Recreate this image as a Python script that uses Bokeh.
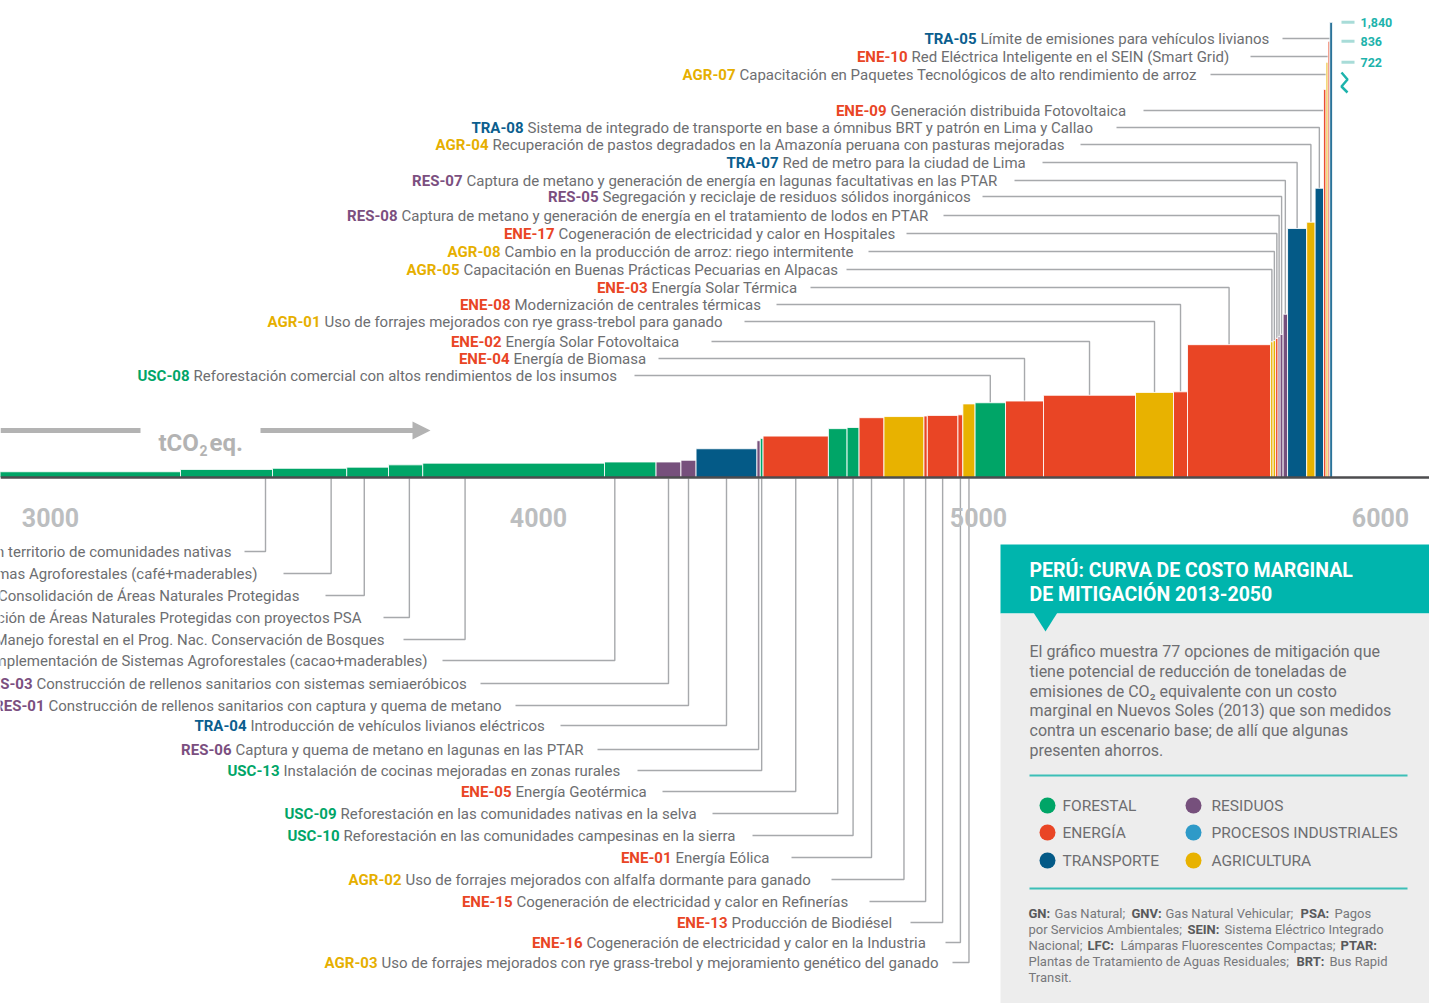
import numpy as np
from bokeh.plotting import figure
from bokeh.models import Range1d, ColumnDataSource, Span
from bokeh.core.properties import value
from bokeh.embed import file_html
from bokeh.resources import INLINE

# ---------------------------------------------------------------- data
start_abatement = 2700.0          # cumulative tCO2eq at the left edge of the first visible bar
codes = ["", "", "", "", "", "", "",
         "RES-03", "RES-01", "TRA-04", "RES-06", "USC-13", "ENE-05", "USC-09", "USC-10",
         "ENE-01", "AGR-02", "ENE-15", "ENE-13", "ENE-16", "AGR-03",
         "USC-08", "ENE-04", "ENE-02", "AGR-01", "ENE-08", "ENE-03", "AGR-05", "AGR-08",
         "ENE-17", "RES-08", "RES-05", "RES-07", "TRA-07", "AGR-04", "TRA-08", "ENE-09",
         "AGR-07", "ENE-10", "TRA-05"]
sectors = ["FOR"] * 7 + ["RES", "RES", "TRA", "RES", "FOR", "ENE", "FOR", "FOR",
                         "ENE", "AGR", "ENE", "ENE", "ENE", "AGR",
                         "FOR", "ENE", "ENE", "AGR", "ENE", "ENE", "AGR", "AGR",
                         "ENE", "RES", "RES", "RES", "TRA", "AGR", "TRA", "ENE",
                         "AGR", "ENE", "TRA"]
widths = [545, 207, 167, 94, 77, 409, 116, 56, 34, 137, 7.5, 6.3, 147, 42, 27, 56, 90,
          7.5, 69, 11, 27.5, 68.5, 85.5, 207, 85.5, 31.5, 187, 5.6, 5.6, 5.6, 4.5, 6.8,
          10, 43, 19, 19, 5.6, 4.5, 4, 5.6]
costs = [10, 14, 16, 18, 22, 25, 27, 27, 30, 50, 64, 68, 72, 85, 87, 104, 106, 107, 108,
         109, 128, 130, 133, 143, 148, 149, 231, 236, 238, 242, 245, 249, 284, 433, 444,
         503, 675, 722, 836, 1840]
descriptions = [
    None,
    "Manejo Forestal Comunitario en territorio de comunidades nativas",
    "Implementación de Sistemas Agroforestales (café+maderables)",
    "Consolidación de Áreas Naturales Protegidas",
    "Consolidación de Áreas Naturales Protegidas con proyectos PSA",
    "Manejo forestal en el Prog. Nac. Conservación de Bosques",
    "Implementación de Sistemas Agroforestales (cacao+maderables)",
    "Construcción de rellenos sanitarios con sistemas semiaeróbicos",
    "Construcción de rellenos sanitarios con captura y quema de metano",
    "Introducción de vehículos livianos eléctricos",
    "Captura y quema de metano en lagunas en las PTAR",
    "Instalación de cocinas mejoradas en zonas rurales",
    "Energía Geotérmica",
    "Reforestación en las comunidades nativas en la selva",
    "Reforestación en las comunidades campesinas en la sierra",
    "Energía Eólica",
    "Uso de forrajes mejorados con alfalfa dormante para ganado",
    "Cogeneración de electricidad y calor en Refinerías",
    "Producción de Biodiésel",
    "Cogeneración de electricidad y calor en la Industria",
    "Uso de forrajes mejorados con rye grass-trebol y mejoramiento genético del ganado",
    "Reforestación comercial con altos rendimientos de los insumos",
    "Energía de Biomasa",
    "Energía Solar Fotovoltaica",
    "Uso de forrajes mejorados con rye grass-trebol para ganado",
    "Modernización de centrales térmicas",
    "Energía Solar Térmica",
    "Capacitación en Buenas Prácticas Pecuarias en Alpacas",
    "Cambio en la producción de arroz: riego intermitente",
    "Cogeneración de electricidad y calor en Hospitales",
    "Captura de metano y generación de energía en el tratamiento de lodos en PTAR",
    "Segregación y reciclaje de residuos sólidos inorgánicos",
    "Captura de metano y  generación de energía en lagunas facultativas en las PTAR",
    "Red de metro para la ciudad de Lima",
    "Recuperación de pastos degradados en la Amazonía peruana con pasturas mejoradas",
    "Sistema de integrado de transporte en base a ómnibus BRT y patrón en Lima y Callao",
    "Generación distribuida Fotovoltaica",
    "Capacitación en Paquetes Tecnológicos de alto rendimiento de arroz",
    "Red Eléctrica Inteligente en el SEIN (Smart Grid)",
    "Límite de emisiones para vehículos livianos",
]
break_ticks = [722, 836, 1840]
break_labels = ["722", "836", "1,840"]
x_tick_labels = ["3000", "4000", "5000", "6000"]

sector_names = ["FORESTAL", "ENERGÍA", "TRANSPORTE", "RESIDUOS", "PROCESOS INDUSTRIALES", "AGRICULTURA"]
sector_keys = ["FOR", "ENE", "TRA", "RES", "IND", "AGR"]

# ---------------------------------------------------------------- styles / layout
FILL = {"FOR": "#00A567", "ENE": "#E94525", "TRA": "#045A87", "RES": "#76507C",
        "IND": "#2E9AC8", "AGR": "#E8B200"}
CODE_COL = {"FOR": "#00A567", "ENE": "#E94525", "TRA": "#0B5E8E", "RES": "#7B4F80",
            "AGR": "#E6AF00"}
GRAY_TXT = "#6D6E71"
LEAD = "#A7A9AC"
TEAL = "#00B5AD"
FONT = value("Roboto")

W, H, OFF = 1429, 1003, 0
X0, XS = 2840.0, 2.25      # abatement at image px 0 / abatement per px
Y0, YS = 477.0, 0.575      # baseline px / px per cost unit
break_disp = [722, 758.5, 791.6]  # compressed display positions above the axis break


def px_x(x):
    return (np.asarray(x, float) - X0) / XS


def px_y(y):
    return Y0 - np.asarray(y, float) * YS


# label layout (pixel positions of annotations)
TOP_Y = [38, 56, 74, 110, 127, 144, 162, 180, 196, 215, 233, 251, 269, 287, 304, 321, 341, 358, 375]
TOP_DESC_X = [980, 911, 739, 890, 527, 492, 782, 466, 602, 401, 558, 504, 463, 651, 514, 324, 505, 513, 193]
TOP_LINE_X = [1282, 1250, 1210, 1143, 1116, 1080, 1042, 1014, 982, 943, 906, 868, 846, 810, 776, 744, 711, 658, 634]
BOT_Y = [551, 573, 595, 617, 639, 660, 683, 705, 725, 749, 770, 791, 813, 835, 857, 879, 901, 922, 942, 962]
BOT_DESC_X = [None] * 6 + [36, 48, 250, 235, 283, 515, 340, 343, 675, 405, 516, 731, 586, 381]
BOT_TEXT_END = [231, 257, 299, 361, 384, 427] + [None] * 14
BOT_LINE_X = [244, 283, 325, 383, 403, 442, 480, 515, 560, 597, 637, 662, 712, 752, 791, 831, 869, 910, 945, 952]
BOT_FRAC = [0.924, 0.79, 0.42, 0.61, 0.233, 0.2] + [0.5] * 14

# ---------------------------------------------------------------- figure
p = figure(width=W, height=H,
           x_range=Range1d(X0 + XS * OFF, X0 + XS * (OFF + W)),
           y_range=Range1d((Y0 - (OFF + H)) / YS, (Y0 - OFF) / YS),
           output_backend="svg", toolbar_location=None,
           x_axis_location=None, y_axis_location=None, min_border=0,
           outline_line_color=None, background_fill_color="white",
           border_fill_color="white")
p.grid.grid_line_color = None
p.extra_x_ranges = {"px": Range1d(OFF, OFF + W)}
p.extra_y_ranges = {"px": Range1d(OFF + H, OFF)}
PX = dict(x_range_name="px", y_range_name="px")

w = np.array(widths, float)
right = start_abatement + np.cumsum(w)
left = right - w
c = np.array(costs, float)
disp = np.where(c <= break_ticks[0], c, np.interp(c, break_ticks, break_disp))

lpx, rpx = px_x(left), px_x(right)
cpx = (lpx + rpx) / 2
tpx = px_y(disp)
base_px = float(px_y(0))

# ---- leader lines
xs, ys = [], []
top_idx = list(range(len(codes) - 1, 20, -1))
for j, bi in enumerate(top_idx):
    y = TOP_Y[j]
    cx = float(cpx[bi])
    if tpx[bi] > y:
        xs.append([TOP_LINE_X[j], cx, cx]); ys.append([y, y, float(tpx[bi])])
    else:
        xs.append([TOP_LINE_X[j], cx]); ys.append([y, y])
bot_idx = list(range(1, 21))
for j, bi in enumerate(bot_idx):
    y = BOT_Y[j]
    cx = float(lpx[bi] + BOT_FRAC[j] * (rpx[bi] - lpx[bi]))
    xs.append([BOT_LINE_X[j], cx, cx]); ys.append([y, y, base_px + 1])
p.multi_line(xs, ys, line_color=LEAD, line_width=1.4, **PX)

# ---- bars
bars = ColumnDataSource(dict(left=left, right=right, top=disp, bottom=np.zeros_like(disp),
                             color=[FILL[s] for s in sectors]))
p.quad(left="left", right="right", top="top", bottom="bottom", fill_color="color",
       line_color="white", line_width=1, line_alpha=0.85, source=bars)
p.add_layout(Span(location=0, dimension="width", line_color="#4D4D4F", line_width=2.5))

# ---- option labels
code_src = dict(x=[], y=[], text=[], color=[])
desc_l = dict(x=[], y=[], text=[])
desc_r = dict(x=[], y=[], text=[])
for j, bi in enumerate(top_idx):
    code_src["x"].append(TOP_DESC_X[j] - 4); code_src["y"].append(TOP_Y[j])
    code_src["text"].append(codes[bi]); code_src["color"].append(CODE_COL[sectors[bi]])
    desc_l["x"].append(TOP_DESC_X[j]); desc_l["y"].append(TOP_Y[j]); desc_l["text"].append(descriptions[bi])
for j, bi in enumerate(bot_idx):
    if BOT_DESC_X[j] is None:
        desc_r["x"].append(BOT_TEXT_END[j]); desc_r["y"].append(BOT_Y[j]); desc_r["text"].append(descriptions[bi])
    else:
        code_src["x"].append(BOT_DESC_X[j] - 4); code_src["y"].append(BOT_Y[j])
        code_src["text"].append(codes[bi]); code_src["color"].append(CODE_COL[sectors[bi]])
        desc_l["x"].append(BOT_DESC_X[j]); desc_l["y"].append(BOT_Y[j]); desc_l["text"].append(descriptions[bi])

LBL = dict(text_font=FONT, text_font_size="15px", text_baseline="middle", **PX)
p.text(x="x", y="y", text="text", text_color="color", text_align="right", text_font_style="bold",
       source=ColumnDataSource(code_src), **LBL)
p.text(x="x", y="y", text="text", text_color=GRAY_TXT, text_align="left",
       source=ColumnDataSource(desc_l), **LBL)
p.text(x="x", y="y", text="text", text_color=GRAY_TXT, text_align="right",
       source=ColumnDataSource(desc_r), **LBL)

# ---- x tick labels (placed as in the reference)
p.text(x=[50, 538, 978, 1380], y=[517] * 4, text=x_tick_labels, text_font=FONT,
       text_font_size="25px", text_font_style="bold", text_color="#BCBEC0",
       text_align="center", text_baseline="middle", **PX)

# ---- tCO2eq arrow
ARW = "#B3B3B3"
p.line([0, 140], [430, 430], line_color=ARW, line_width=5, **PX)
p.line([260, 414], [430, 430], line_color=ARW, line_width=5, **PX)
p.patch([412, 430, 412], [421, 430, 439], fill_color=ARW, line_color=None, **PX)
p.text(x=[158], y=[442], text=["tCO"], text_font=FONT, text_font_size="24px", text_font_style="bold",
       text_color=ARW, text_baseline="alphabetic", **PX)
p.text(x=[199], y=[450], text=["2"], text_font=FONT, text_font_size="14px", text_font_style="bold",
       text_color=ARW, text_baseline="alphabetic", **PX)
p.text(x=[209], y=[442], text=["eq."], text_font=FONT, text_font_size="24px", text_font_style="bold",
       text_color=ARW, text_baseline="alphabetic", **PX)

# ---- broken-axis markers (top right)
by = [float(v) for v in px_y(break_disp)]
p.segment(x0=[1341] * 3, x1=[1354] * 3, y0=by, y1=by, line_color="#A8DCD8", line_width=3, **PX)
p.text(x=[1360] * 3, y=by, text=break_labels, text_font=FONT, text_font_size="12.5px",
       text_font_style="bold", text_color="#1DB3AC", text_baseline="middle", **PX)
p.line([1341, 1347, 1341, 1347], [72, 79, 86, 92], line_color="#1DB3AC", line_width=2.5, **PX)

# ---- info box
p.quad(left=[1000], right=[1440], top=[544], bottom=[613], fill_color=TEAL, line_color=None, **PX)
p.quad(left=[1000], right=[1440], top=[613], bottom=[1010], fill_color="#EDEDED", line_color=None, **PX)
p.patch([1033, 1057, 1045], [612, 612, 631], fill_color=TEAL, line_color=None, **PX)
p.text(x=[1029, 1029], y=[570, 594], text=["PERÚ: CURVA DE COSTO MARGINAL", "DE MITIGACIÓN 2013-2050"],
       text_font=FONT, text_font_size="19.5px", text_font_style="bold", text_color="white",
       text_baseline="middle", **PX)
body = ["El gráfico muestra 77 opciones de mitigación que",
        "tiene potencial de reducción de toneladas de",
        "emisiones de CO₂ equivalente con un costo",
        "marginal en Nuevos Soles (2013) que son medidos",
        "contra un escenario base; de allí que algunas",
        "presenten ahorros."]
p.text(x=[1029] * 6, y=[651, 671, 691, 710, 730, 750], text=body, text_font=FONT,
       text_font_size="16px", text_color=GRAY_TXT, text_baseline="middle", **PX)
p.segment(x0=[1029, 1029], x1=[1407, 1407], y0=[775, 888], y1=[775, 888],
          line_color="#3CBFB7", line_width=2, **PX)

lx = [1047, 1047, 1047, 1193, 1193, 1193]
ly = [805, 832, 860, 805, 832, 860]
p.scatter(x=lx, y=ly, size=16, marker="circle", color=[FILL[k] for k in sector_keys],
          line_color=None, **PX)
p.text(x=[v + 15 if v < 1100 else v + 18 for v in lx], y=ly, text=sector_names,
       text_font=FONT, text_font_size="15.5px", text_color=GRAY_TXT, text_baseline="middle", **PX)

fn_reg = [("Gas Natural;", 1054, 913), ("Gas Natural Vehicular;", 1165, 913), ("Pagos", 1334, 913),
          ("por Servicios Ambientales;", 1028, 929), ("Sistema Eléctrico Integrado", 1224, 929),
          ("Nacional;", 1028, 945), ("Lámparas Fluorescentes Compactas;", 1120, 945),
          ("Plantas de Tratamiento de Aguas Residuales;", 1028, 961), ("Bus Rapid", 1329, 961),
          ("Transit.", 1028, 977)]
fn_bold = [("GN:", 1028, 913), ("GNV:", 1131, 913), ("PSA:", 1300, 913), ("SEIN:", 1187, 929),
           ("LFC:", 1087, 945), ("PTAR:", 1340, 945), ("BRT:", 1296, 961)]
p.text(x=[f[1] for f in fn_reg], y=[f[2] for f in fn_reg], text=[f[0] for f in fn_reg],
       text_font=FONT, text_font_size="13px", text_color="#77787B", text_baseline="middle", **PX)
p.text(x=[f[1] for f in fn_bold], y=[f[2] for f in fn_bold], text=[f[0] for f in fn_bold],
       text_font=FONT, text_font_size="13px", text_font_style="bold", text_color="#58595B",
       text_baseline="middle", **PX)

open("out.html", "w").write(file_html(p, INLINE))
